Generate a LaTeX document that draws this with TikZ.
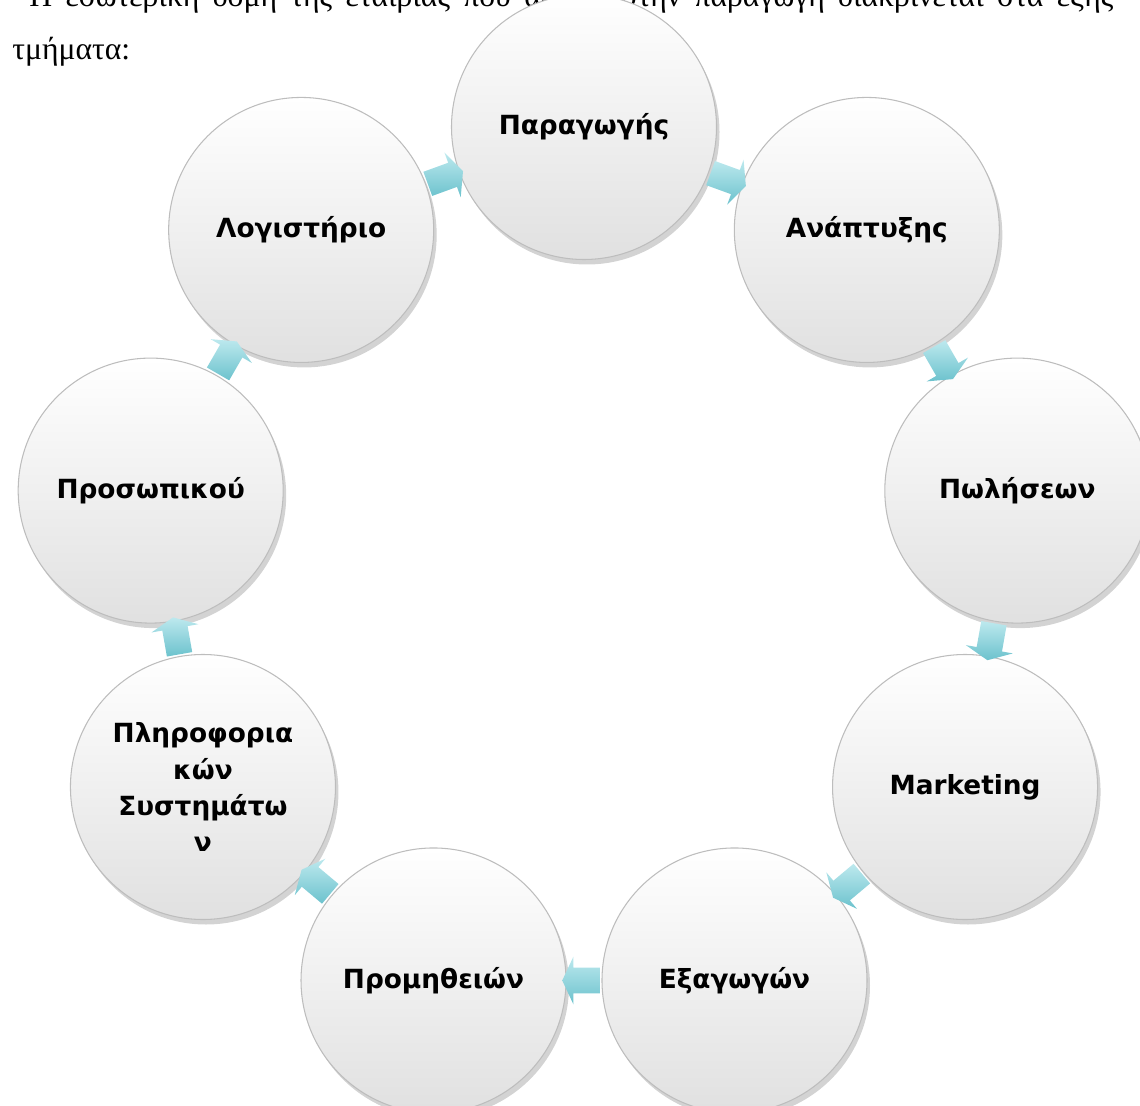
\documentclass[tikz,border=0pt]{standalone}
\usepackage{fontspec}
\setmainfont{Liberation Serif}
\newfontfamily\deptfont{DejaVu Sans}
\usetikzlibrary{calc, positioning, shapes, shadows}

\definecolor{flowlight}{HTML}{BDE9EE}
\definecolor{flowdark}{HTML}{6CC2CD}
\definecolor{rimgray}{HTML}{BDBDBD}

\begin{document}
\begin{tikzpicture}[dept/.style={circle, draw=rimgray, line width=0.6pt, top color=white, bottom color=black!12, minimum size=5.3cm, inner sep=2pt, align=center, font=\deptfont\bfseries\fontsize{15}{20.5}\selectfont, drop shadow={opacity=0.35, shadow xshift=0.06cm, shadow yshift=-0.1cm}},
  flow/.style={single arrow, top color=flowlight, bottom color=flowdark, draw=none, minimum height=0.75cm, inner xsep=0pt, inner ysep=0.25cm, single arrow head extend=0.22cm, single arrow tip angle=130},
  para/.style={font=\fontsize{18}{27}\selectfont, inner sep=0pt, anchor=base west}]
  \useasboundingbox (0,0) rectangle (22.8,-22.12);
  \clip (0,0) rectangle (22.8,-22.12);

  % text above the diagram
  \node[para] (line1) at (0.58,-0.14) {\makebox[21.68cm][s]{Η εσωτερική δομή της εταιρίας που αφορά στην παραγωγή διακρίνεται στα εξής}};
  \node[para] (line2) at (0.24,-1.2) {τμήματα:};

  % departments
  \begin{scope}[shift={(11.68,-11.34)}]
    \node[dept] (c1) at (90:8.8) {Παραγωγής};
    \node[dept] (c2) at (50:8.8) {Ανάπτυξης};
    \node[dept] (c3) at (10:8.8) {Πωλήσεων};
    \node[dept] (c4) at (-30:8.8) {Marketing};
    \node[dept] (c5) at (-70:8.8) {Εξαγωγών};
    \node[dept] (c6) at (-110:8.8) {Προμηθειών};
    \node[dept] (c7) at (-150:8.8) {Πληροφορια\\κών\\Συστημάτω\\ν};
    \node[dept] (c8) at (170:8.8) {Προσωπικού};
    \node[dept] (c9) at (130:8.8) {Λογιστήριο};
  \end{scope}

  % arrows between departments
  \node[flow, rotate=-20] (f12) at ($(c1)!.5!(c2)$) {};
  \node[flow, rotate=-60] (f23) at ($(c2)!.5!(c3)$) {};
  \node[flow, rotate=-100] (f34) at ($(c3)!.5!(c4)$) {};
  \node[flow, rotate=-140] (f45) at ($(c4)!.5!(c5)$) {};
  \node[flow, rotate=180] (f56) at ($(c5)!.5!(c6)$) {};
  \node[flow, rotate=140] (f67) at ($(c6)!.5!(c7)$) {};
  \node[flow, rotate=100] (f78) at ($(c7)!.5!(c8)$) {};
  \node[flow, rotate=60] (f89) at ($(c8)!.5!(c9)$) {};
  \node[flow, rotate=20] (f91) at ($(c9)!.5!(c1)$) {};
\end{tikzpicture}
\end{document}
